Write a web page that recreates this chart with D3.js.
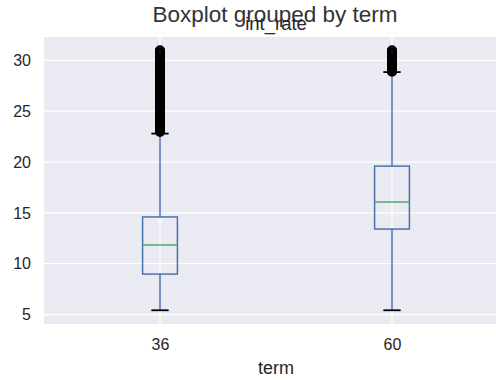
<!DOCTYPE html>
<html>
<head>
<meta charset="utf-8">
<script src="https://cdn.jsdelivr.net/npm/d3@7"></script>
<style>
  html, body { margin: 0; padding: 0; background: #fff; }
  svg { display: block; font-family: "Liberation Sans", Arial, sans-serif; }
</style>
</head>
<body>
<svg id="chart" width="496" height="380"></svg>
<script>
// Loan term groups and their int_rate summary statistics
const terms = ["36", "60"];
const q1 = [8.98, 13.41];
const medians = [11.85, 16.06];
const q3 = [14.6, 19.6];
const whiskerLow = [5.42, 5.42];
const whiskerHigh = [22.8, 28.85];

// Rates above the upper whisker, per term
const outliers36 = [22.95, 23.05, 23.13, 23.22, 23.28, 23.33, 23.4, 23.43, 23.5, 23.59, 23.63, 23.7,
  23.76, 23.83, 23.91, 23.99, 24.08, 24.11, 24.2, 24.24, 24.33, 24.4, 24.5, 24.52, 24.59, 24.7,
  24.74, 24.83, 24.89, 24.99, 25.09, 25.11, 25.2, 25.28, 25.34, 25.44, 25.49, 25.57, 25.65, 25.69,
  25.78, 25.8, 25.83, 25.88, 25.89, 25.99, 26.0, 26.06, 26.14, 26.24, 26.3, 26.31, 26.39, 26.49,
  26.57, 26.65, 26.77, 26.87, 26.99, 27.05, 27.14, 27.27, 27.31, 27.34, 27.49, 27.56, 27.7, 27.79,
  27.88, 27.99, 28.18, 28.34, 28.49, 28.55, 28.67, 28.69, 28.72, 28.88, 28.99, 29.17, 29.35, 29.49,
  29.67, 29.69, 29.8, 29.96, 29.99, 30.06, 30.17, 30.32, 30.49, 30.65, 30.74, 30.75, 30.79, 30.84,
  30.89, 30.94, 30.99];
const outliers60 = [28.88, 28.92, 28.99, 29.1, 29.22, 29.35, 29.49, 29.58, 29.69, 29.8, 29.96,
  29.99, 30.06, 30.17, 30.32, 30.49, 30.65, 30.74, 30.75, 30.79, 30.84, 30.89, 30.94, 30.99];

const yTicks = [5, 10, 15, 20, 25, 30];

const svg = d3.select("#chart");
const plotLeft = 44, plotRight = 508, plotTop = 37, plotBottom = 324;

// Positions 1 and 2 on a 0.5..2.5 axis
const x = d3.scaleLinear().domain([0.5, 2.5]).range([plotLeft, plotRight]);
const y = d3.scaleLinear().domain([4.07, 32.3]).range([plotBottom, plotTop]);

const boxHalf = 0.075;   // box width of 0.15 axis units
const capHalf = 0.0375;

// Plot background
svg.append("rect")
  .attr("x", plotLeft).attr("y", plotTop)
  .attr("width", plotRight - plotLeft).attr("height", plotBottom - plotTop)
  .attr("fill", "#EAEAF2");

// Grid
const grid = svg.append("g").attr("stroke", "#fff").attr("stroke-width", 1.2);
grid.selectAll("line.h").data(yTicks).join("line")
  .attr("class", "h")
  .attr("x1", plotLeft).attr("x2", plotRight)
  .attr("y1", d => y(d)).attr("y2", d => y(d));
grid.selectAll("line.v").data(terms).join("line")
  .attr("class", "v")
  .attr("x1", (d, i) => x(i + 1)).attr("x2", (d, i) => x(i + 1))
  .attr("y1", plotTop).attr("y2", plotBottom);

// Y axis labels
const yAxis = d3.axisLeft(y).tickValues(yTicks).tickSize(0).tickPadding(0);
const gy = svg.append("g").attr("transform", `translate(${plotLeft - 13},0)`).call(yAxis);
gy.select(".domain").remove();
gy.selectAll("text").attr("font-size", 16).attr("fill", "#262626")
  .attr("font-family", "Liberation Sans, Arial, sans-serif");

// X axis labels
const xAxis = d3.axisBottom(x).tickValues([1, 2]).tickFormat((d, i) => terms[i]).tickSize(0).tickPadding(0);
const gx = svg.append("g").attr("transform", `translate(0,${plotBottom + 14.5})`).call(xAxis);
gx.select(".domain").remove();
gx.selectAll("text").attr("font-size", 16).attr("fill", "#262626")
  .attr("font-family", "Liberation Sans, Arial, sans-serif");

// Boxes
const blue = "#4C72B0";
const groups = svg.append("g");
terms.forEach((t, i) => {
  const p = i + 1;
  const g = groups.append("g");
  // whiskers
  g.append("line").attr("x1", x(p)).attr("x2", x(p))
    .attr("y1", y(q1[i])).attr("y2", y(whiskerLow[i]))
    .attr("stroke", blue).attr("stroke-width", 1.5);
  g.append("line").attr("x1", x(p)).attr("x2", x(p))
    .attr("y1", y(q3[i])).attr("y2", y(whiskerHigh[i]))
    .attr("stroke", blue).attr("stroke-width", 1.5);
  // caps
  [whiskerLow[i], whiskerHigh[i]].forEach(v => {
    g.append("line").attr("x1", x(p - capHalf)).attr("x2", x(p + capHalf))
      .attr("y1", y(v)).attr("y2", y(v))
      .attr("stroke", "#000").attr("stroke-width", 1.8);
  });
  // box
  g.append("rect")
    .attr("x", x(p - boxHalf)).attr("y", y(q3[i]))
    .attr("width", x(p + boxHalf) - x(p - boxHalf))
    .attr("height", y(q1[i]) - y(q3[i]))
    .attr("fill", "none").attr("stroke", blue).attr("stroke-width", 1.5);
  // median
  g.append("line").attr("x1", x(p - boxHalf)).attr("x2", x(p + boxHalf))
    .attr("y1", y(medians[i])).attr("y2", y(medians[i]))
    .attr("stroke", "#55A868").attr("stroke-width", 1.5);
  // fliers
  const fl = i === 0 ? outliers36 : outliers60;
  g.selectAll("circle").data(fl).join("circle")
    .attr("cx", x(p)).attr("cy", d => y(d)).attr("r", 4)
    .attr("fill", "none").attr("stroke", "#000").attr("stroke-width", 2);
});

// Titles
svg.append("text").attr("x", 275).attr("y", 22).attr("text-anchor", "middle")
  .attr("font-size", 22.5).attr("fill", "#333").text("Boxplot grouped by term");
svg.append("text").attr("x", (plotLeft + plotRight) / 2).attr("y", 29.5).attr("text-anchor", "middle")
  .attr("font-size", 18.5).attr("fill", "#262626").text("int_rate");
svg.append("text").attr("x", (plotLeft + plotRight) / 2).attr("y", 374).attr("text-anchor", "middle")
  .attr("font-size", 18).attr("fill", "#262626").text("term");
</script>
</body>
</html>
